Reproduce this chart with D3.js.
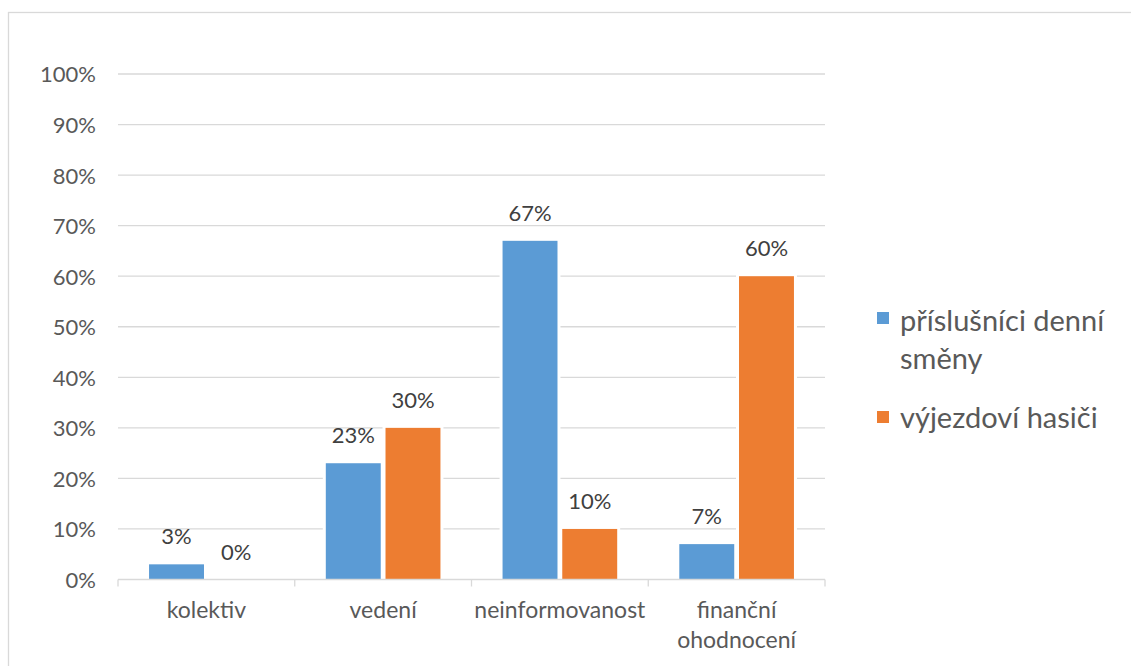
<!DOCTYPE html>
<html>
<head>
<meta charset="utf-8">
<script src="https://cdn.jsdelivr.net/npm/d3@7"></script>
<style>
  html, body { margin: 0; padding: 0; background: #fff; }
  svg { display: block; font-family: Lato, "Open Sans", sans-serif; }
</style>
</head>
<body>
<svg id="chart" width="1131" height="666"></svg>
<script>
// Categories, series and values (shares of respondents)
const categories = ["kolektiv", "vedení", "neinformovanost", "finanční ohodnocení"];
const categoryLines = [["kolektiv"], ["vedení"], ["neinformovanost"], ["finanční", "ohodnocení"]];
const seriesNames = ["příslušníci denní směny", "výjezdoví hasiči"];
const seriesLegendLines = [["příslušníci denní", "směny"], ["výjezdoví hasiči"]];
const dayShift = [0.03, 0.23, 0.67, 0.07];
const responders = [0.00, 0.30, 0.10, 0.60];
const yTicks = [0, 0.1, 0.2, 0.3, 0.4, 0.5, 0.6, 0.7, 0.8, 0.9, 1.0];
const colors = ["#5B9BD5", "#ED7D31"];

const seriesValues = [dayShift, responders];
const rows = categories.map((c, i) => ({
  category: c,
  values: seriesNames.map((s, j) => ({ series: s, idx: j, value: seriesValues[j][i] }))
}));

const svg = d3.select("#chart");
const plot = { left: 118, right: 825, top: 74, bottom: 579.5 };

// Outer chart frame
svg.append("rect")
  .attr("x", 8.5).attr("y", 12.5)
  .attr("width", 1140).attr("height", 700)
  .attr("fill", "#fff").attr("stroke", "#D9D9D9").attr("stroke-width", 1.3);

const x = d3.scaleBand().domain(categories).range([plot.left, plot.right]).padding(0);
const xs = d3.scaleBand().domain(seriesNames).range([0, x.bandwidth()])
  .paddingInner(0.08).paddingOuter(0.52);
const y = d3.scaleLinear().domain([0, 1]).range([plot.bottom, plot.top]);

// Horizontal gridlines
svg.append("g").selectAll("line")
  .data(yTicks.filter(t => t > 0))
  .join("line")
  .attr("x1", plot.left).attr("x2", plot.right)
  .attr("y1", d => y(d)).attr("y2", d => y(d))
  .attr("stroke", "#D9D9D9").attr("stroke-width", 1.3);

// Y axis labels
const yAxis = d3.axisLeft(y).tickValues(yTicks).tickFormat(d3.format(".0%")).tickSize(0).tickPadding(22);
svg.append("g")
  .attr("transform", `translate(${plot.left},0)`)
  .call(yAxis)
  .call(g => g.select(".domain").remove())
  .call(g => g.selectAll("text")
    .attr("font-family", "Lato, sans-serif")
    .attr("font-size", 22)
    .attr("fill", "#595959")
    .attr("dy", "0.36em"));

// Bars with a white outline
const groups = svg.append("g").selectAll("g")
  .data(rows)
  .join("g")
  .attr("transform", d => `translate(${x(d.category)},0)`);

groups.selectAll("rect")
  .data(d => d.values)
  .join("rect")
  .attr("x", d => xs(d.series))
  .attr("width", xs.bandwidth())
  .attr("y", d => y(d.value))
  .attr("height", d => plot.bottom - y(d.value))
  .attr("fill", d => colors[d.idx])
  .attr("stroke", "#fff")
  .attr("stroke-width", d => d.value > 0 ? 6 : 0)
  .attr("paint-order", "stroke");

// Value labels
groups.selectAll("text")
  .data(d => d.values)
  .join("text")
  .attr("x", d => xs(d.series) + xs.bandwidth() / 2)
  .attr("y", d => y(d.value) - 20)
  .attr("text-anchor", "middle")
  .attr("font-size", 22)
  .attr("fill", "#404040")
  .text(d => d3.format(".0%")(d.value));

// Category axis line and ticks
const xAxis = d3.axisBottom(x).tickSize(0).tickFormat("");
svg.append("g")
  .attr("transform", `translate(0,${plot.bottom})`)
  .call(xAxis)
  .call(g => g.select(".domain").remove());

svg.append("line")
  .attr("x1", plot.left).attr("x2", plot.right)
  .attr("y1", plot.bottom).attr("y2", plot.bottom)
  .attr("stroke", "#D9D9D9").attr("stroke-width", 1.3);

const boundaries = categories.map(c => x(c)).concat([plot.right]);
svg.append("g").selectAll("line")
  .data(boundaries)
  .join("line")
  .attr("x1", d => d).attr("x2", d => d)
  .attr("y1", plot.bottom).attr("y2", plot.bottom + 7)
  .attr("stroke", "#D9D9D9").attr("stroke-width", 1.3);

// Category labels
svg.append("g").selectAll("text")
  .data(categories)
  .join("text")
  .attr("x", d => x(d) + x.bandwidth() / 2)
  .attr("y", 618)
  .attr("text-anchor", "middle")
  .attr("font-size", 23)
  .attr("fill", "#595959")
  .each(function (d, i) {
    d3.select(this).selectAll("tspan")
      .data(categoryLines[i])
      .join("tspan")
      .attr("x", x(d) + x.bandwidth() / 2)
      .attr("dy", (t, k) => k === 0 ? 0 : 30)
      .text(t => t);
  });

// Legend
const legendItems = [
  { sq: 312, base: 331 },
  { sq: 411, base: 428 }
];
const legend = svg.append("g");
seriesNames.forEach((s, i) => {
  legend.append("rect")
    .attr("x", 877).attr("y", legendItems[i].sq)
    .attr("width", 12).attr("height", 12)
    .attr("fill", colors[i]);
  const t = legend.append("text")
    .attr("x", 900).attr("y", legendItems[i].base)
    .attr("font-size", 29)
    .attr("fill", "#595959");
  t.selectAll("tspan")
    .data(seriesLegendLines[i])
    .join("tspan")
    .attr("x", 900)
    .attr("dy", (d, k) => k === 0 ? 0 : 38)
    .text(d => d);
});
</script>
</body>
</html>
